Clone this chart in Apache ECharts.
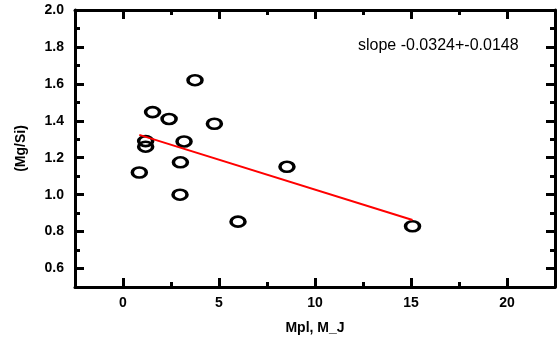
<!DOCTYPE html>
<html>
<head>
<meta charset="utf-8">
<script src="https://cdn.jsdelivr.net/npm/echarts@6/dist/echarts.min.js"></script>
<style>
  html, body { margin: 0; padding: 0; background: #fff; }
  #main { width: 559px; height: 340px; }
</style>
</head>
<body>
<div id="main"></div>
<script>
var myChart = echarts.init(document.getElementById('main'));

// data
var mplValues = [0.85, 1.18, 1.18, 1.54, 2.4, 2.97, 2.99, 3.18, 3.75, 4.76, 5.99, 8.54, 15.08];
var mgSiValues = [1.12, 1.29, 1.26, 1.447, 1.41, 1.0, 1.175, 1.288, 1.62, 1.384, 0.854, 1.151, 0.829];

// fitted line ends
var fitX = [0.85, 15.08];
var fitY = [1.324, 0.863];

var xMajorTicks = [0, 5, 10, 15, 20];
var yMajorTicks = [0.6, 0.8, 1.0, 1.2, 1.4, 1.6, 1.8, 2.0];
var slopeText = 'slope -0.0324+-0.0148';

var points = mplValues.map(function (x, i) { return [x, mgSiValues[i]]; });
var fitLine = fitX.map(function (x, i) { return [x, fitY[i]]; });

var thick = { color: '#000', width: 3 };

function oneDecimal(v) {
    var n = Number(v);
    return isNaN(n) ? String(v) : n.toFixed(1);
}

// mode 0: styled labels, mode 1: font from global textStyle, mode 2: plain labels
function buildOption(mode) {
    function labelStyle(o, fmt) {
        if (mode === 0) {
            o.color = '#000'; o.fontFamily = 'Liberation Sans'; o.fontWeight = 'bold'; o.fontSize = 14;
        }
        if (fmt && mode < 2) o.formatter = oneDecimal;
        return o;
    }
    function majorX(pos, withLabels) {
        return {
            type: 'value', position: pos, min: -2.5, max: 22.5,
            axisLine: { show: true, onZero: false, lineStyle: thick },
            axisTick: { show: true, inside: true, length: 9, customValues: xMajorTicks, lineStyle: thick },
            axisLabel: withLabels ? labelStyle({ show: true, margin: 9, customValues: xMajorTicks }, false) : { show: false },
            splitLine: { show: false }
        };
    }
    function minorX(pos) {
        return {
            type: 'value', position: pos, min: -2.5, max: 22.5, interval: 2.5,
            axisLine: { show: false, onZero: false },
            axisTick: { show: true, inside: true, length: 5, lineStyle: thick },
            axisLabel: { show: false },
            splitLine: { show: false }
        };
    }
    function majorY(pos, withLabels) {
        return {
            type: 'value', position: pos, min: 0.5, max: 2.0,
            axisLine: { show: true, onZero: false, lineStyle: thick },
            axisTick: { show: true, inside: true, length: 9, customValues: yMajorTicks, lineStyle: thick },
            axisLabel: withLabels ? labelStyle({ show: true, margin: 11, customValues: yMajorTicks }, true) : { show: false },
            splitLine: { show: false }
        };
    }
    function minorY(pos) {
        return {
            type: 'value', position: pos, min: 0.5, max: 2.0, interval: 0.1,
            axisLine: { show: false, onZero: false },
            axisTick: { show: true, inside: true, length: 5, lineStyle: thick },
            axisLabel: { show: false },
            splitLine: { show: false }
        };
    }

    var xBottom = majorX('bottom', true);
    xBottom.name = 'Mpl, M_J';
    xBottom.nameLocation = 'middle';
    xBottom.nameGap = 34;
    xBottom.nameTextStyle = { color: '#000', fontFamily: 'Liberation Sans', fontWeight: 'bold', fontSize: 14 };

    var yLeft = majorY('left', true);
    yLeft.name = '(Mg/Si)';
    yLeft.nameLocation = 'middle';
    yLeft.nameGap = 47;
    yLeft.nameTextStyle = { color: '#000', fontFamily: 'Liberation Sans', fontWeight: 'bold', fontSize: 14 };

    var opt = {
        backgroundColor: '#fff',
        animation: false,
        grid: { left: 75, right: 4, top: 10, bottom: 53 },
        xAxis: [xBottom, minorX('bottom'), majorX('top', false), minorX('top')],
        yAxis: [yLeft, minorY('left'), majorY('right', false), minorY('right')],
        graphic: [{
            type: 'text', left: 358, top: 38,
            style: { text: slopeText, fill: '#000', font: '16px "Liberation Sans"' }
        }],
        series: [{
            type: 'scatter',
            xAxisIndex: 0, yAxisIndex: 0,
            data: points,
            symbol: 'circle',
            symbolSize: [14, 10],
            itemStyle: { color: 'rgba(0,0,0,0)', borderColor: '#000', borderWidth: 3, opacity: 1 }
        }, {
            type: 'line',
            xAxisIndex: 0, yAxisIndex: 0,
            data: fitLine,
            showSymbol: false,
            symbol: 'none',
            lineStyle: { color: '#ff0000', width: 2 },
            z: 3
        }]
    };
    if (mode === 1) {
        opt.textStyle = { fontFamily: 'Liberation Sans', fontWeight: 'bold', color: '#000' };
    }
    return opt;
}

// check that the inside ticks really got painted on the left and bottom edges
function ticksDrawn() {
    try {
        var canvas = myChart.getDom().querySelector('canvas');
        var ctx = canvas.getContext('2d');
        var a = myChart.convertToPixel({ xAxisIndex: 0, yAxisIndex: 0 }, [-2.5, 1.0]);
        var b = myChart.convertToPixel({ xAxisIndex: 0, yAxisIndex: 0 }, [5, 0.5]);
        var p1 = ctx.getImageData(Math.round(a[0] + 7), Math.round(a[1]), 1, 1).data;
        var p2 = ctx.getImageData(Math.round(b[0]), Math.round(b[1] - 7), 1, 1).data;
        return p1[0] < 128 && p2[0] < 128;
    } catch (e) {
        return true;
    }
}

var mode = 0;
myChart.setOption(buildOption(mode), true);
while (!ticksDrawn() && mode < 2) {
    mode++;
    myChart.clear();
    myChart.setOption(buildOption(mode), true);
}
</script>
</body>
</html>
